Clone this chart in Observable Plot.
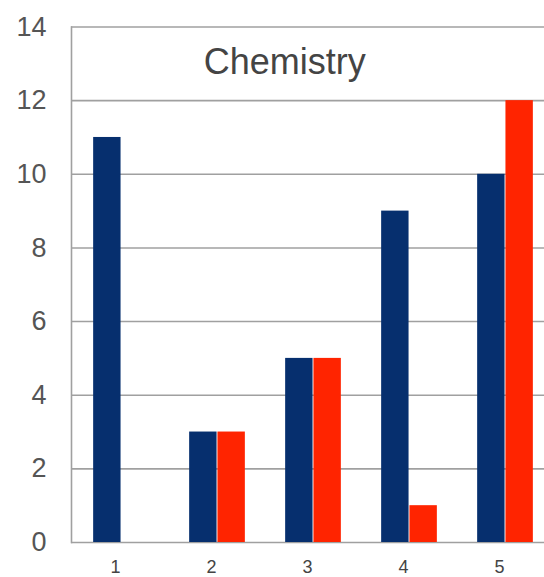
<!DOCTYPE html>
<html>
<head>
<meta charset="utf-8">
<script src="https://cdn.jsdelivr.net/npm/d3@7"></script>
<script src="https://cdn.jsdelivr.net/npm/@observablehq/plot@0.6"></script>
<style>
  html, body { margin: 0; padding: 0; background: #fff; overflow: hidden; }
  #chart svg { display: block; }
</style>
</head>
<body>
<div id="chart"></div>
<script>
const categories = ["1", "2", "3", "4", "5"];
const seriesA = [11, 3, 5, 9, 10];
const seriesB = [0, 3, 5, 1, 12];
const yTicks = [0, 2, 4, 6, 8, 10, 12, 14];
const title = "Chemistry";

const dataA = categories.map((c, i) => ({cat: c, value: seriesA[i]}));
const dataB = categories.map((c, i) => ({cat: c, value: seriesB[i]}));

const band = (555.5 - 71) / 5;
const barW = 28.3;

const chart = Plot.plot({
  width: 544,
  height: 577,
  marginLeft: 71,
  marginRight: -11.5,
  marginTop: 26.5,
  marginBottom: 35,
  style: {fontFamily: "'Liberation Sans', Arial, sans-serif", background: "#fff"},
  x: {domain: categories, padding: 0, axis: null, label: null},
  y: {domain: [0, 14], axis: null, label: null},
  marks: [
    Plot.ruleY(yTicks, {stroke: "#a0a0a0", strokeWidth: 1.6}),
    Plot.frame({anchor: "left", stroke: "#a0a0a0", strokeWidth: 1.6}),
    Plot.barY(dataA, {x: "cat", y: "value", fill: "#062f6e",
      insetLeft: band / 2 - barW, insetRight: band / 2}),
    Plot.barY(dataB, {x: "cat", y: "value", fill: "#ff2400",
      insetLeft: band / 2, insetRight: band / 2 - barW}),
    Plot.axisY(yTicks, {tickSize: 0, tickPadding: 25, fontSize: 27, fill: "#555",
      label: null, tickFormat: d => String(d)}),
    Plot.axisX(categories, {tickSize: 0, tickPadding: 18, fontSize: 18, fill: "#444",
      label: null, dx: -6}),
    Plot.text([title], {frameAnchor: "top", lineAnchor: "middle", dy: 35, dx: -29,
      fontSize: 36, fill: "#444"})
  ]
});
document.getElementById("chart").append(chart);
</script>
</body>
</html>
